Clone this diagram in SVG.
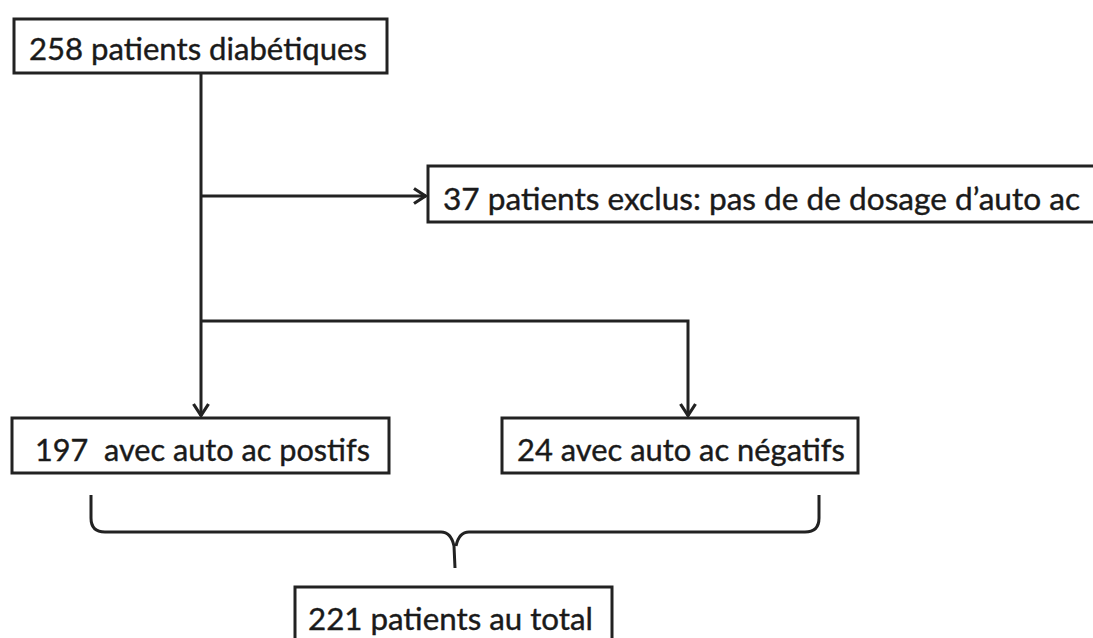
<svg xmlns="http://www.w3.org/2000/svg" width="1093" height="638" viewBox="0 0 1093 638">
  <style>
    .box { fill: #ffffff; stroke: #222222; stroke-width: 3; }
    .lbl { font-family: Lato, "Open Sans", "Liberation Sans", sans-serif; font-size: 31px; fill: #1a1a1a; white-space: pre; stroke: #1a1a1a; stroke-width: 0.4; }
    .conn { fill: none; stroke: #222222; stroke-width: 3; }
  </style>
  <defs>
    <marker id="arr" viewBox="0 0 15 18" refX="13.5" refY="9" markerWidth="15" markerHeight="18" markerUnits="userSpaceOnUse" orient="auto">
      <path d="M1.5,1.5 L13,9 L1.5,16.5" fill="none" stroke="#222222" stroke-width="3.2" stroke-linejoin="miter"/>
    </marker>
  </defs>
  <rect width="1093" height="638" fill="#ffffff"/>
  <g id="connectors">
    <path class="conn" d="M201,73 V416" marker-end="url(#arr)"/>
    <path class="conn" d="M201,196 H426" marker-end="url(#arr)"/>
    <path class="conn" d="M201,321 H688 V416" marker-end="url(#arr)"/>
    <path class="conn" d="M91,495 V518 Q91,532 105,532 H441 Q451,532 454,546 L455,568 M819,495 V518 Q819,532 805,532 H469 Q459,532 456,546"/>
  </g>
  <g id="node-total-initial">
    <rect class="box" x="14" y="19" width="373" height="54"/>
    <text class="lbl" x="29" y="60" textLength="338" lengthAdjust="spacingAndGlyphs">258 patients diabétiques</text>
  </g>
  <g id="node-exclus">
    <rect class="box" x="428" y="166" width="700" height="56"/>
    <text class="lbl" x="443" y="210" textLength="637" lengthAdjust="spacingAndGlyphs">37 patients exclus: pas de de dosage d’auto ac</text>
  </g>
  <g id="node-positifs">
    <rect class="box" x="12" y="418" width="377" height="55"/>
    <text class="lbl" x="35" y="461" textLength="335" lengthAdjust="spacingAndGlyphs">197  avec auto ac postifs</text>
  </g>
  <g id="node-negatifs">
    <rect class="box" x="502" y="418" width="356" height="55"/>
    <text class="lbl" x="517" y="461" textLength="328" lengthAdjust="spacingAndGlyphs">24 avec auto ac négatifs</text>
  </g>
  <g id="node-total">
    <rect class="box" x="295" y="587" width="317" height="60"/>
    <text class="lbl" x="308" y="630" textLength="285" lengthAdjust="spacingAndGlyphs">221 patients au total</text>
  </g>
</svg>
